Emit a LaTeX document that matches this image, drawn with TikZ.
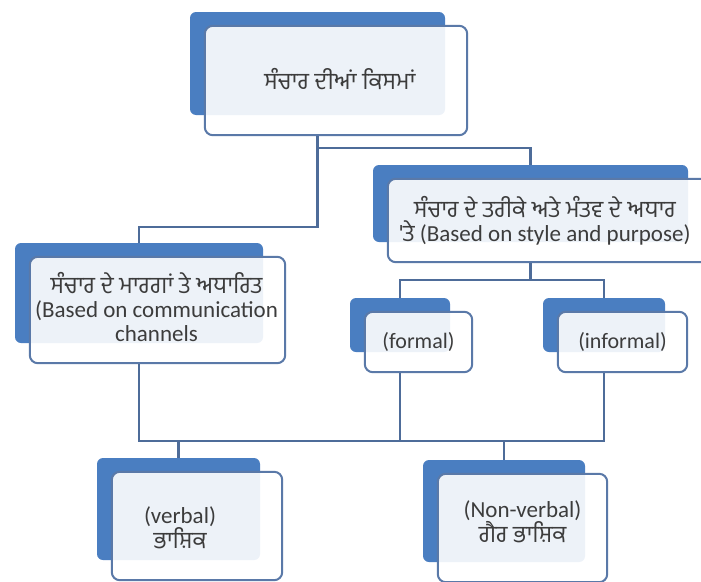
\documentclass[tikz,border=0pt]{standalone}
\usepackage{fontspec}
\setmainfont{Carlito}
\newfontfamily\pa[Script=Gurmukhi,Scale=1.02]{Hind Jalandhar}
\usetikzlibrary{calc}
\usetikzlibrary{fit}
\definecolor{cardbg}{HTML}{4A7EC1}
\definecolor{cardedge}{HTML}{5A79A8}
\definecolor{wirec}{HTML}{4E6C99}
\definecolor{inkc}{HTML}{3C3C3C}
\tikzset{back/.style={
  fill=cardbg,
  rounded corners=6pt,
  inner sep=0pt
}}
\tikzset{front/.style={
  draw=cardedge, line width=2pt,
  fill=white, fill opacity=0.9,
  rounded corners=8pt,
  inner sep=0pt
}}
\tikzset{txt/.style={
  text=inkc, align=center,
  font=\fontsize{23}{24}\selectfont
}}
\tikzset{wire/.style={draw=wirec, line width=2.4pt}}
% one card: name, back centre, back width, back height, text shift, text
\newcommand{\card}[6]{%
  \node[back,minimum width=#3,minimum height=#4] (#1-bk) at (#2) {};
  \node[front,fit={($(#1-bk.north west)+(15,14)$) ($(#1-bk.south east)+(22,20)$)}] (#1) {};
  \node[txt] (#1-txt) at ($(#1)+(#5)$) {#6};
}

\begin{document}
\begin{tikzpicture}[x=1pt,y=-1pt]
    % Background
    \fill[white] (0,0) rectangle (701,581);
    \useasboundingbox (0,0) rectangle (701,581);
    % Boxes
    \card{types}{317.5,63.5}{255}{103}{4,-1}
      {\pa ਸੰਚਾਰ ਦੀਆਂ ਕਿਸਮਾਂ}
    \card{channels}{139,293}{248}{100}{-1,-3}
      {{\pa ਸੰਚਾਰ ਦੇ ਮਾਰਗਾਂ ਤੇ ਅਧਾਰਿਤ}\\(Based on communication\\channels}
    \card{style}{530.5,203.5}{315}{77}{-4,0}
      {{\pa ਸੰਚਾਰ ਦੇ ਤਰੀਕੇ ਅਤੇ ਮੰਤਵ ਦੇ ਅਧਾਰ}\\{\pa 'ਤੇ} (Based on style and purpose)}
    \card{formal}{400,325}{100}{54}{0,0}
      {\fontsize{22}{23}\selectfont (formal)}
    \card{informal}{604,325}{122}{54}{0,0}
      {\fontsize{22}{23}\selectfont (informal)}
    \card{verbal}{178.5,509}{163}{102}{-17,2}
      {(verbal)\\{\pa ਭਾਸ਼ਿਕ}}
    \card{nonverbal}{504,511}{162}{102}{0,-6}
      {(Non-verbal)\\{\pa ਗੈਰ ਭਾਸ਼ਿਕ}}
    % Wires
    \draw[wire] (types.south -| types-bk) -- ++(0,91) -| (channels-bk.north);
    \draw[wire] (types.south -| types-bk) ++(0,12) -| (style-bk.north);
    \draw[wire] (style.south -| style-bk) -- ++(0,17) coordinate (split);
    \draw[wire] (formal-bk.north) |- (split) -| (informal-bk.north);
    \coordinate (join) at (0,441);
    \draw[wire] (channels.south -| channels-bk) -- (channels-bk |- join)
      -- (informal-bk |- join) -- (informal.south -| informal-bk);
    \draw[wire] (formal.south -| formal-bk) -- (formal-bk |- join);
    \draw[wire] (verbal-bk |- join) -- (verbal-bk.north);
    \draw[wire] (nonverbal-bk |- join) -- (nonverbal-bk.north);
\end{tikzpicture}
\end{document}
